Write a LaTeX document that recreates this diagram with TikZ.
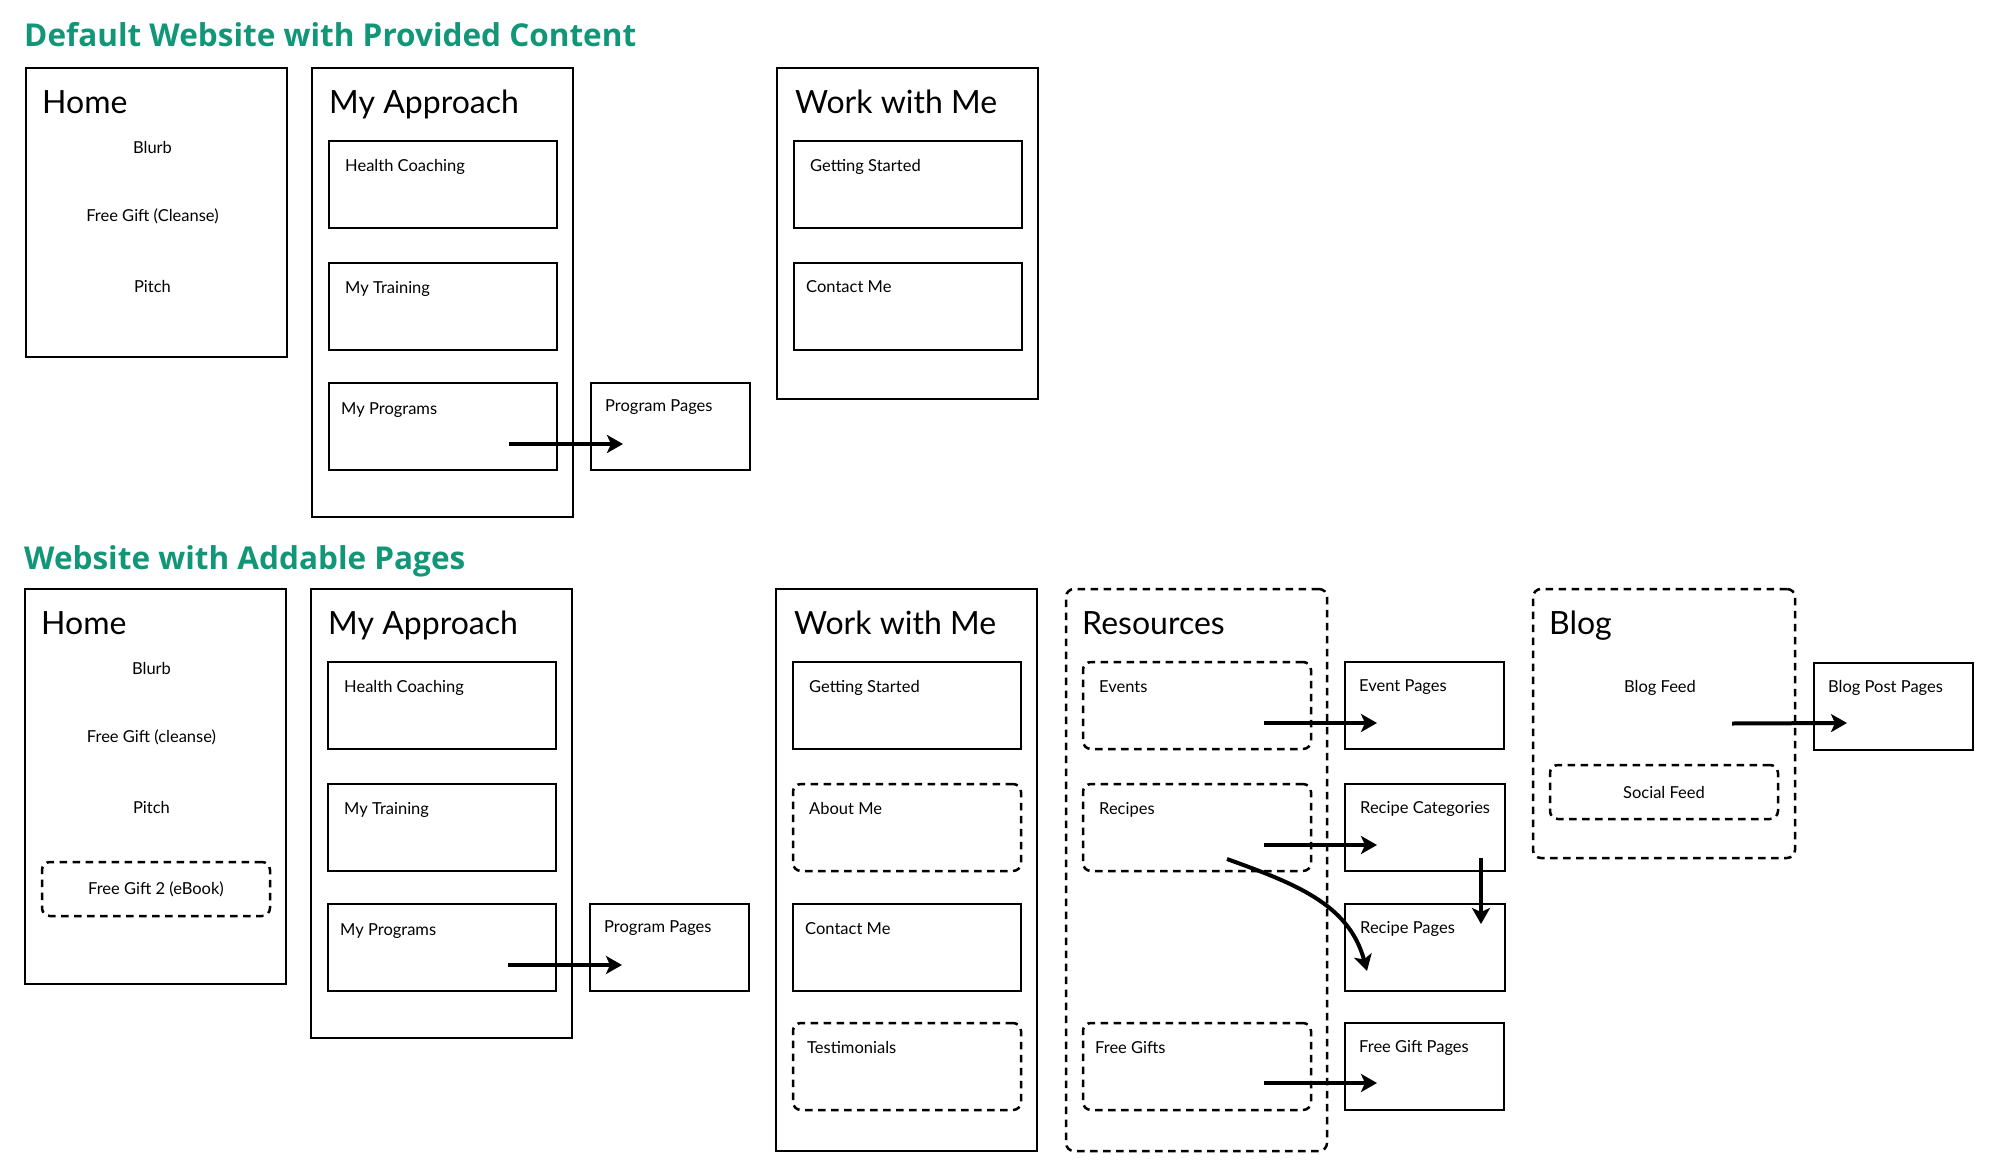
\documentclass[tikz,border=0pt]{standalone}
\usepackage{fontspec}
\setmainfont{Lato}
\newfontfamily\headfont{Open Sans}
\usetikzlibrary{arrows.meta, positioning, calc}
\definecolor{TealGreen}{RGB}{18,150,120}
\tikzset{
  pagebox/.style={draw, line width=2.5pt, anchor=north west, minimum width=228pt, minimum height=87pt, inner sep=0pt, outer sep=0pt},
  colbox/.style={pagebox, minimum width=261pt},
  addbox/.style={pagebox, dash pattern=on 7.5pt off 5.5pt, rounded corners=8pt},
  ttl/.style={anchor=base west, inner sep=0pt, font=\fontsize{32}{38}\selectfont},
  lbl/.style={anchor=base west, inner sep=0pt},
  item/.style={anchor=base, inner sep=0pt},
  head/.style={anchor=base west, inner sep=0pt, text=TealGreen, font=\headfont\bfseries\fontsize{31.5}{36}\selectfont},
  link/.style={line width=4pt, -{Stealth[length=16pt, width=18pt, inset=4pt]}}
}
\begin{document}
\begin{tikzpicture}[x=1pt, y=-1pt, font=\fontsize{16.5}{20}\selectfont]
\useasboundingbox (0,0) rectangle (2000,1170);
\node[head] (T1) at (24,46) {Default Website with Provided Content};
\node[colbox, minimum height=289pt] (H1) at (26,68) {};
\node[ttl] (H1t) at ([shift={(16,45)}]H1.north west) {Home};
\node[item] (H1a) at ([shift={(-4,85)}]H1.north) {Blurb};
\node[item] (H1b) at ([shift={(-4,153)}]H1.north) {Free Gift (Cleanse)};
\node[item] (H1c) at ([shift={(-4,224)}]H1.north) {Pitch};
\node[colbox, minimum height=449pt] (A1) at (312,68) {};
\node[ttl] (A1t) at ([shift={(17,45)}]A1.north west) {My Approach};
\node[pagebox] (HC1) at (329,141) {};
\node[pagebox, below=35pt of HC1] (MT1) {};
\node[pagebox, below=33pt of MT1] (MP1) {};
\node[lbl] (HC1t) at ([shift={(16,30)}]HC1.north west) {Health Coaching};
\node[lbl] (MT1t) at ([shift={(16,30)}]MT1.north west) {My Training};
\node[lbl] (MP1t) at ([shift={(12,31)}]MP1.north west) {My Programs};
\node[pagebox, minimum width=159pt, right=34pt of MP1] (PP1) {};
\node[lbl] (PP1t) at ([shift={(14,28)}]PP1.north west) {Program Pages};
\node[colbox, minimum height=331pt] (W1) at (777,68) {};
\node[ttl] (W1t) at ([shift={(18,45)}]W1.north west) {Work with Me};
\node[pagebox] (GS1) at (794,141) {};
\node[pagebox, below=35pt of GS1] (CM1) {};
\node[lbl] (GS1t) at ([shift={(16,30)}]GS1.north west) {Getting Started};
\node[lbl] (CM1t) at ([shift={(12,29)}]CM1.north west) {Contact Me};
\draw[link] ([shift={(-48,-26)}]MP1.south east) -- ([shift={(32,-26)}]PP1.south west);

\node[head] (T2) at (24,569) {Website with Addable Pages};
\node[colbox, minimum height=395pt] (H2) at (25,589) {};
\node[ttl] (H2t) at ([shift={(16,45)}]H2.north west) {Home};
\node[item] (H2a) at ([shift={(-4,85)}]H2.north) {Blurb};
\node[item] (H2b) at ([shift={(-4,153)}]H2.north) {Free Gift (cleanse)};
\node[item] (H2c) at ([shift={(-4,224)}]H2.north) {Pitch};
\node[addbox, minimum width=228pt, minimum height=54pt] (FG2) at (42,862) {Free Gift 2 (eBook)};
\node[colbox, minimum height=449pt] (A2) at (311,589) {};
\node[ttl] (A2t) at ([shift={(17,45)}]A2.north west) {My Approach};
\node[pagebox] (HC2) at (328,662) {};
\node[pagebox, below=35pt of HC2] (MT2) {};
\node[pagebox, below=33pt of MT2] (MP2) {};
\node[lbl] (HC2t) at ([shift={(16,30)}]HC2.north west) {Health Coaching};
\node[lbl] (MT2t) at ([shift={(16,30)}]MT2.north west) {My Training};
\node[lbl] (MP2t) at ([shift={(12,31)}]MP2.north west) {My Programs};
\node[pagebox, minimum width=159pt, right=34pt of MP2] (PP2) {};
\node[lbl] (PP2t) at ([shift={(14,28)}]PP2.north west) {Program Pages};
\node[colbox, minimum height=562pt] (W2) at (776,589) {};
\node[ttl] (W2t) at ([shift={(18,45)}]W2.north west) {Work with Me};
\node[pagebox] (GS2) at (793,662) {};
\node[addbox, below=35pt of GS2] (AM2) {};
\node[pagebox, below=33pt of AM2] (CM2) {};
\node[addbox, below=32pt of CM2] (TS2) {};
\node[lbl] (GS2t) at ([shift={(16,30)}]GS2.north west) {Getting Started};
\node[lbl] (AM2t) at ([shift={(16,30)}]AM2.north west) {About Me};
\node[lbl] (CM2t) at ([shift={(12,30)}]CM2.north west) {Contact Me};
\node[lbl] (TS2t) at ([shift={(14,30)}]TS2.north west) {Testimonials};
\node[addbox, minimum width=261pt, minimum height=562pt] (RS) at (1066,589) {};
\node[ttl] (RSt) at ([shift={(16,45)}]RS.north west) {Resources};
\node[addbox] (EV) at (1083,662) {};
\node[addbox, below=35pt of EV] (RE) {};
\node[addbox] (FG) at (1083,1023) {};
\node[lbl] (EVt) at ([shift={(16,30)}]EV.north west) {Events};
\node[lbl] (REt) at ([shift={(16,30)}]RE.north west) {Recipes};
\node[lbl] (FGt) at ([shift={(12,30)}]FG.north west) {Free Gifts};
\node[pagebox, minimum width=159pt, right=34pt of EV] (EP) {};
\node[pagebox, minimum width=160pt, right=34pt of RE] (RC) {};
\node[pagebox, minimum width=160pt, below=33pt of RC] (RP) {};
\node[pagebox, minimum width=159pt, right=34pt of FG] (FP) {};
\node[lbl] (EPt) at ([shift={(14,29)}]EP.north west) {Event Pages};
\node[lbl] (RCt) at ([shift={(15,29)}]RC.north west) {Recipe Categories};
\node[lbl] (RPt) at ([shift={(15,29)}]RP.north west) {Recipe Pages};
\node[lbl] (FPt) at ([shift={(14,29)}]FP.north west) {Free Gift Pages};
\node[addbox, minimum width=262pt, minimum height=269pt] (BG) at (1533,589) {};
\node[ttl] (BGt) at ([shift={(16,45)}]BG.north west) {Blog};
\node[item] (BGa) at ([shift={(-4,103)}]BG.north) {Blog Feed};
\node[addbox, minimum width=228pt, minimum height=54pt] (SF) at (1550,765) {Social Feed};
\node[pagebox, minimum width=159pt] (BP) at (1814,663) {};
\node[lbl] (BPt) at ([shift={(14,29)}]BP.north west) {Blog Post Pages};
\draw[link] ([shift={(-48,-26)}]MP2.south east) -- ([shift={(32,-26)}]PP2.south west);
\draw[link] ([shift={(-47,-26)}]EV.south east) -- ([shift={(32,-26)}]EP.south west);
\draw[link] ([shift={(-47,-26)}]RE.south east) -- ([shift={(32,-26)}]RC.south west);
\draw[link] ([shift={(-47,-27)}]FG.south east) -- ([shift={(32,-27)}]FP.south west);
\draw[link] ([shift={(-24,-13)}]RC.south east) -- ([shift={(-24,20)}]RP.north east);
\draw[link] ([shift={(-84,-12)}]RE.south east) to[out=-20, in=105] ([shift={(22,-20)}]RP.south west);
\draw[link] ([xshift=-63pt]BG.east) -- ([shift={(33,-27)}]BP.south west);
\end{tikzpicture}
\end{document}
